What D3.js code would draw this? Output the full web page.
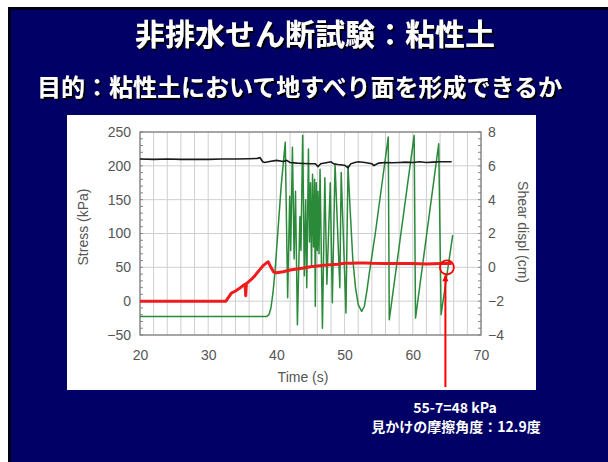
<!DOCTYPE html>
<html>
<head>
<meta charset="utf-8">
<script src="https://cdn.jsdelivr.net/npm/d3@7"></script>
<style>
  body { margin: 0; background: #fff; }
  svg { display: block; }
</style>
</head>
<body>
<svg id="chart" width="608" height="462"></svg>
<script>
// Axis ticks
const timeTicks = [20, 30, 40, 50, 60, 70];
const stressTicks = [-50, 0, 50, 100, 150, 200, 250];
const displTicks = [-4, -2, 0, 2, 4, 6, 8];

// Normal stress (kPa) vs time (s)
const normalStress = [
  [20, 210], [22, 209.5], [24, 210], [26, 209.5], [28, 209.5], [30, 209.5],
  [32, 210], [34, 210], [36, 210.5], [37.2, 211], [37.6, 212], [38.0, 206],
  [38.3, 205], [39, 206.5], [40, 208], [41, 206.5], [41.5, 208], [42, 205],
  [43, 204], [44, 203.5], [45, 203], [45.7, 203], [46.1, 199], [46.5, 203],
  [47.5, 205], [48, 206], [48.4, 203], [49, 202], [50, 201], [50.5, 197],
  [50.9, 203], [51.5, 205], [52, 206], [53, 205], [54, 203], [54.3, 200.5],
  [55, 204], [56, 205], [57, 204.5], [58, 205], [59, 205.5], [60, 205],
  [61, 206], [62, 205], [63, 205.5], [64, 206], [65, 206], [65.7, 206]
];

// Shear stress (kPa) vs time (s)
const shearStress = [
  [20, 0], [32.6, 0], [33.0, 6], [33.4, 12], [34.0, 15], [34.6, 19],
  [35.1, 23], [35.4, 25], [35.5, 8], [35.6, 26], [36.2, 31], [36.8, 37],
  [37.1, 41], [37.6, 47], [38.1, 53], [38.6, 57], [38.8, 58], [39.2, 50],
  [39.6, 43], [40.0, 42], [41, 43.5], [42, 46], [43, 47.5], [44, 49],
  [45, 51], [46, 52], [47, 53], [48, 54], [49, 54.5], [50, 56], [51, 56],
  [52, 56.5], [53, 56.5], [54, 56], [56, 55.5], [58, 55.5], [60, 55.5],
  [62, 55], [64, 55.5], [65.7, 55.5]
];

// Shear displacement (cm) vs time (s)
const shearDispl = [
  [20, -2.9], [38.6, -2.9], [38.9, -2.8], [39.2, -2.4], [39.5, -1.5],
  [39.8, -0.2], [40.2, 2.0], [40.7, 4.8], [41.3, 7.4], [41.65, -1.8],
  [41.95, 4.2], [42.1, 1.0], [42.35, 7.1], [42.6, 0.5], [42.8, 4.5],
  [43.08, -3.4], [43.45, 3.0], [43.6, 1.0], [43.85, 7.8], [44.1, -0.5],
  [44.3, 4.0], [44.45, -1.2], [44.7, 7.0], [44.85, 1.5], [45.0, 5.0],
  [45.15, 0.0], [45.3, 5.5], [45.45, 1.2], [45.6, 5.2], [45.7, -2.3],
  [45.85, 5.0], [46.0, 1.0], [46.1, 4.5], [46.25, 0.8], [46.4, 5.8],
  [46.75, -3.6], [47.1, 5.3], [47.4, -1.0], [47.9, 5.0], [48.2, -2.1],
  [48.6, 6.1], [49.3, -1.2], [49.5, 5.6], [50.2, -2.7], [50.5, 6.0],
  [50.8, 3.5], [51.2, 0.5], [51.6, -1.2], [52.0, -2.2], [52.5, -2.6],
  [52.9, -2.3], [53.3, -1.3], [53.6, -0.4], [54.5, 2.0], [55.5, 5.0],
  [56.4, 7.7], [56.55, -3.1], [60.2, 7.8], [60.4, -3.0], [63.8, 7.3],
  [64.15, -2.8], [65.85, 1.9]
];

// Marked point on the residual strength
const marker = { t: 65, stress: 50 };

const svg = d3.select("#chart");

// Drop shadow for the slide headings
const defs = svg.append("defs");
defs.append("filter").attr("id", "shadow").attr("x", "-5%").attr("y", "-20%")
  .attr("width", "115%").attr("height", "150%")
  .append("feDropShadow").attr("dx", 2).attr("dy", 2).attr("stdDeviation", 0.4)
  .attr("flood-color", "#000").attr("flood-opacity", 1);

// Slide background
svg.append("rect").attr("x", 8).attr("y", 7).attr("width", 600).attr("height", 455).attr("fill", "#000014");
svg.append("rect").attr("x", 11).attr("y", 10).attr("width", 597).attr("height", 452).attr("fill", "#000066");

// Headings
const heading = svg.append("g").attr("font-family", "'Noto Sans CJK JP', sans-serif")
  .attr("font-weight", 700).attr("fill", "#fff").attr("filter", "url(#shadow)");
heading.append("text").attr("x", 315).attr("y", 45).attr("font-size", 30)
  .attr("text-anchor", "middle").text("非排水せん断試験：粘性土");
heading.append("text").attr("x", 37).attr("y", 96).attr("font-size", 24)
  .text("目的：粘性土において地すべり面を形成できるか");

// White chart panel
svg.append("rect").attr("x", 67).attr("y", 115).attr("width", 469).attr("height", 275).attr("fill", "#fff");

const x = d3.scaleLinear().domain([20, 70]).range([140, 481]);
const yL = d3.scaleLinear().domain([-50, 250]).range([335, 132]);
const yR = d3.scaleLinear().domain([-4, 8]).range([335, 132]);

const plot = svg.append("g");

// Grid
plot.selectAll("line.vgrid").data(d3.range(20, 70.1, 2)).join("line")
  .attr("x1", d => x(d)).attr("x2", d => x(d))
  .attr("y1", yL(-50)).attr("y2", yL(250))
  .attr("stroke", "#cfcfcf").attr("stroke-width", 1);
plot.selectAll("line.hgrid").data(stressTicks).join("line")
  .attr("x1", x(20)).attr("x2", x(70))
  .attr("y1", d => yL(d)).attr("y2", d => yL(d))
  .attr("stroke", "#cfcfcf").attr("stroke-width", 1);

// Minor ticks on both vertical edges
const minor = d3.range(-50, 250.1, 10);
plot.selectAll("line.mtl").data(minor).join("line")
  .attr("x1", x(20)).attr("x2", x(20) + 3)
  .attr("y1", d => yL(d)).attr("y2", d => yL(d))
  .attr("stroke", "#888");
plot.selectAll("line.mtr").data(minor).join("line")
  .attr("x1", x(70)).attr("x2", x(70) - 3)
  .attr("y1", d => yL(d)).attr("y2", d => yL(d))
  .attr("stroke", "#888");

// Frame
plot.append("rect").attr("x", x(20)).attr("y", yL(250))
  .attr("width", x(70) - x(20)).attr("height", yL(-50) - yL(250))
  .attr("fill", "none").attr("stroke", "#7a7a7a").attr("stroke-width", 1.2);

// Axes
const axisFont = g => {
  g.select(".domain").remove();
  g.selectAll("text").attr("font-family", "'Liberation Sans', Arial, sans-serif")
    .attr("font-size", 14).attr("fill", "#555");
};
svg.append("g").attr("transform", `translate(${x(20)},0)`)
  .call(d3.axisLeft(yL).tickValues(stressTicks).tickSize(0).tickPadding(9)).call(axisFont);
svg.append("g").attr("transform", `translate(${x(70)},0)`)
  .call(d3.axisRight(yR).tickValues(displTicks).tickSize(0).tickPadding(7)).call(axisFont);
svg.append("g").attr("transform", `translate(0,${yL(-50)})`)
  .call(d3.axisBottom(x).tickValues(timeTicks).tickSize(0).tickPadding(15)).call(axisFont);

const titleFont = sel => sel.attr("font-family", "'Liberation Sans', Arial, sans-serif")
  .attr("font-size", 14).attr("fill", "#555").attr("text-anchor", "middle");
svg.append("text").attr("x", 303).attr("y", 382).text("Time (s)").call(titleFont);
svg.append("text").attr("transform", "translate(88,227) rotate(-90)").text("Stress (kPa)").call(titleFont);
svg.append("text").attr("transform", "translate(518,232) rotate(90)").text("Shear displ (cm)").call(titleFont);

// Series
const lineL = d3.line().x(d => x(d[0])).y(d => yL(d[1]));
const lineR = d3.line().x(d => x(d[0])).y(d => yR(d[1]));

plot.append("path").datum(shearDispl).attr("d", lineR)
  .attr("fill", "none").attr("stroke", "#2a8a3a").attr("stroke-width", 1.5).attr("stroke-linejoin", "round");
plot.append("path").datum(normalStress).attr("d", lineL)
  .attr("fill", "none").attr("stroke", "#1a1a1a").attr("stroke-width", 1.6);
plot.append("path").datum(shearStress).attr("d", lineL)
  .attr("fill", "none").attr("stroke", "#ee1c1c").attr("stroke-width", 3).attr("stroke-linejoin", "round");

// Marker circle and arrow
const cx = x(marker.t), cy = yL(marker.stress), r = 7;
svg.append("circle").attr("cx", cx).attr("cy", cy).attr("r", r)
  .attr("fill", "none").attr("stroke", "#ff0000").attr("stroke-width", 1.8);
const ax = cx - 1.5;
svg.append("line").attr("x1", ax).attr("x2", ax).attr("y1", 387).attr("y2", cy + r + 2)
  .attr("stroke", "#ff0000").attr("stroke-width", 2);
svg.append("path")
  .attr("d", `M${ax},${cy + r} L${ax - 3},${cy + r + 7} L${ax + 3},${cy + r + 7} Z`)
  .attr("fill", "#ff0000");

// Annotation
const note = svg.append("g").attr("font-family", "'Noto Sans CJK JP', sans-serif")
  .attr("font-weight", 700).attr("font-size", 14).attr("fill", "#fff").attr("text-anchor", "middle");
note.append("text").attr("x", 455).attr("y", 413).text("55-7=48 kPa");
note.append("text").attr("x", 456).attr("y", 432).text("見かけの摩擦角度：12.9度");
</script>
</body>
</html>
